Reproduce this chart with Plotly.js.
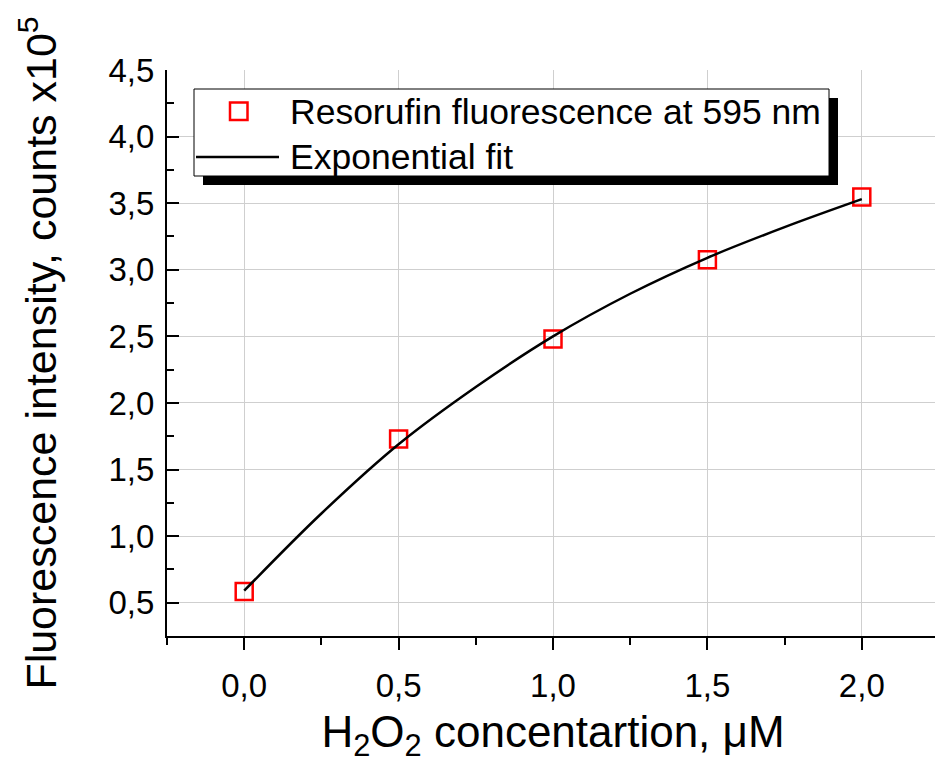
<!DOCTYPE html>
<html>
<head>
<meta charset="utf-8">
<script src="https://cdn.plot.ly/plotly-3.0.1.min.js"></script>
<style>
  html, body { margin: 0; padding: 0; background: #fff; overflow: hidden; width: 935px; height: 763px; }
  #chart { width: 940px; height: 763px; }
</style>
</head>
<body>
<div id="chart"></div>
<script>
// Measured data (H2O2 concentration, µM vs fluorescence, counts x10^5)
const concentration = [0, 0.5, 1.0, 1.5, 2.0];
const fluorescence = [0.585, 1.73, 2.48, 3.075, 3.547];

// Exponential fit curve
const fitConcentration = [0, 0.25, 0.5, 0.75, 1.0, 1.25, 1.5, 1.75, 2.0];
const fitFluorescence = [0.59, 1.17, 1.69, 2.12, 2.50, 2.82, 3.09, 3.32, 3.53];

const seriesNames = ["Resorufin fluorescence at 595 nm", "Exponential fit"];
const xTitle = "H<sub>2</sub>O<sub>2</sub> concentartion, \u03BCM";
const yTitle = "Fluorescence intensity, counts x10<sup>5</sup>";

const FONT = "Liberation Sans, Arial, sans-serif";

const traces = [
  {
    x: concentration, y: fluorescence, name: seriesNames[0],
    type: "scatter", mode: "markers",
    marker: { symbol: "square-open", size: 17, color: "#ff0000", line: { width: 2.5, color: "#ff0000" } }
  },
  {
    x: fitConcentration, y: fitFluorescence, name: seriesNames[1],
    type: "scatter", mode: "lines",
    line: { color: "#000000", width: 2.5, shape: "spline" }
  }
];

const minorIn = { dtick: 0.25, ticklen: 7, tickwidth: 2, tickcolor: "#000", ticks: "inside", showgrid: false };
const minorOut = { dtick: 0.25, ticklen: 7, tickwidth: 2, tickcolor: "#000", ticks: "outside", showgrid: false };

const axisCommon = {
  showline: true, linecolor: "#000", linewidth: 2,
  tickcolor: "#000", tickwidth: 2, ticklen: 12,
  showgrid: true, gridcolor: "#cfcfcf", gridwidth: 1,
  zeroline: false,
  tickfont: { family: FONT, size: 33, color: "#000" },
  tickformat: ".1f"
};

// Legend box geometry (paper fractions) – Origin-style legend with drop shadow
const P = (px) => (px - 167) / 772;      // x pixel -> paper
const Q = (py) => (636 - py) / 566;      // y pixel -> paper

const shapes = [
  { type: "rect", xref: "paper", yref: "paper", layer: "above",
    x0: P(203), x1: P(838), y0: Q(185), y1: Q(98), fillcolor: "#000", line: { width: 0 } },
  { type: "rect", xref: "paper", yref: "paper", layer: "above",
    x0: P(194), x1: P(829), y0: Q(176), y1: Q(89), fillcolor: "#fff", line: { width: 1, color: "#000" } },
  { type: "rect", xref: "paper", yref: "paper", layer: "above",
    x0: P(230), x1: P(247.5), y0: Q(120), y1: Q(102.5), fillcolor: "rgba(0,0,0,0)", line: { width: 2.5, color: "#ff0000" } },
  { type: "line", xref: "paper", yref: "paper", layer: "above",
    x0: P(196), x1: P(279), y0: Q(157), y1: Q(157), line: { width: 2.5, color: "#000" } }
];

const annotations = [
  { xref: "paper", yref: "paper", x: P(288), y: Q(112), xanchor: "left", yanchor: "middle",
    text: seriesNames[0], showarrow: false, font: { family: FONT, size: 35.5, color: "#000" } },
  { xref: "paper", yref: "paper", x: P(288), y: Q(157), xanchor: "left", yanchor: "middle",
    text: seriesNames[1], showarrow: false, font: { family: FONT, size: 35.5, color: "#000" } }
];

const layout = {
  width: 940, height: 763,
  margin: { l: 167, r: 1, t: 70, b: 127 },
  paper_bgcolor: "#fff", plot_bgcolor: "#fff",
  separators: ", ",
  font: { family: FONT, color: "#000" },
  showlegend: false,
  xaxis: Object.assign({}, axisCommon, {
    range: [-0.25, 2.25], tick0: 0, dtick: 0.5,
    ticks: "outside", minor: minorOut,
    ticklabelstandoff: 7,
    title: { text: xTitle, font: { family: FONT, size: 44, color: "#000" }, standoff: 18 }
  }),
  xaxis2: {
    overlaying: "x", side: "top", range: [-0.25, 2.25], tick0: 0, dtick: 0.5,
    showline: true, linecolor: "#000", linewidth: 2,
    ticks: "inside", ticklen: 12, tickwidth: 2, tickcolor: "#000", minor: minorIn,
    showticklabels: false, showgrid: false, zeroline: false
  },
  yaxis: Object.assign({}, axisCommon, {
    range: [0.25, 4.5], tick0: 0.5, dtick: 0.5,
    ticks: "inside", minor: minorIn,
    ticklabelstandoff: 4,
    title: { text: yTitle, font: { family: FONT, size: 43, color: "#000" }, standoff: 38 }
  }),
  yaxis2: {
    overlaying: "y", side: "right", range: [0.25, 4.5], tick0: 0.5, dtick: 0.5,
    showline: true, linecolor: "#000", linewidth: 2,
    ticks: "inside", ticklen: 12, tickwidth: 2, tickcolor: "#000", minor: minorIn,
    showticklabels: false, showgrid: false, zeroline: false
  },
  shapes: shapes,
  annotations: annotations
};

Plotly.newPlot("chart", traces, layout, { displayModeBar: false, staticPlot: true });
</script>
</body>
</html>
